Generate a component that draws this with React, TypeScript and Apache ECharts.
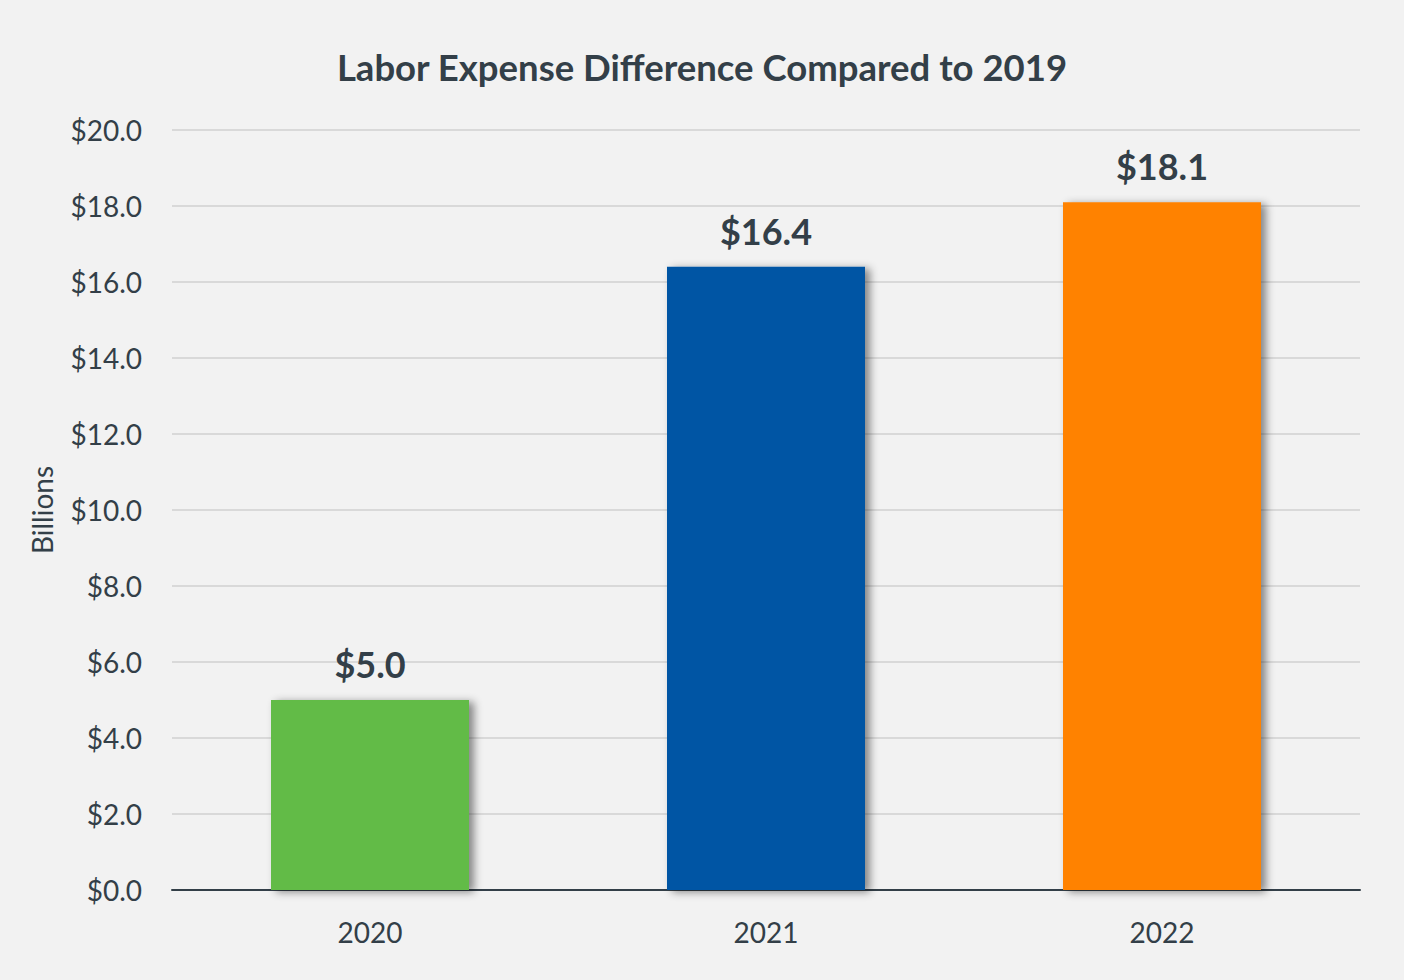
import React, { useEffect, useRef } from "react";
import * as echarts from "echarts";

const categories = ["2020", "2021", "2022"];
const values = [5.0, 16.4, 18.1];
const barColors = ["#62bb46", "#0055a4", "#ff8200"];
const yTicks = { min: 0, max: 20, interval: 2 };

const textColor = "#333f48";
const fontFamily = "Lato, 'Open Sans', sans-serif";

export default function App() {
  const ref = useRef<HTMLDivElement>(null);
  useEffect(() => {
    document.body.style.margin = "0";
    const chart = echarts.init(ref.current!, null, { renderer: "svg" });
    chart.setOption({
      animation: false,
      backgroundColor: "#f2f2f2",
      title: {
        text: "Labor Expense Difference Compared to 2019",
        left: "center",
        top: 43,
        textStyle: { fontFamily, fontSize: 36.5, fontWeight: "bold", color: textColor },
      },
      grid: { left: 172, right: 44, top: 130, bottom: 90, containLabel: false },
      xAxis: {
        type: "category",
        data: categories,
        axisLine: { lineStyle: { color: textColor, width: 2 } },
        axisTick: { show: false },
        axisLabel: { fontFamily, fontSize: 28, color: textColor, margin: 28 },
      },
      yAxis: {
        type: "value",
        min: yTicks.min,
        max: yTicks.max,
        interval: yTicks.interval,
        name: "Billions",
        nameLocation: "middle",
        nameGap: 116,
        nameTextStyle: { fontFamily, fontSize: 28, color: textColor },
        axisLine: { show: false },
        axisTick: { show: false },
        splitLine: { lineStyle: { color: "#d9d9d9", width: 2 } },
        axisLabel: {
          fontFamily,
          fontSize: 28,
          color: textColor,
          margin: 30,
          formatter: (v: number) => "$" + v.toFixed(1),
        },
      },
      series: [
        {
          type: "bar",
          barWidth: "50%",
          data: values.map((v, i) => ({
            value: v,
            itemStyle: {
              color: barColors[i],
              shadowColor: "rgba(0,0,0,0.45)",
              shadowBlur: 8,
              shadowOffsetX: 5,
              shadowOffsetY: 2,
            },
          })),
          label: {
            show: true,
            position: "top",
            distance: 18,
            fontFamily,
            fontSize: 36,
            fontWeight: "bold",
            color: textColor,
            formatter: (p: any) => "$" + Number(p.value).toFixed(1),
          },
        },
      ],
    });
    return () => chart.dispose();
  }, []);
  return <div ref={ref} style={{ width: 1404, height: 980 }} />;
}
